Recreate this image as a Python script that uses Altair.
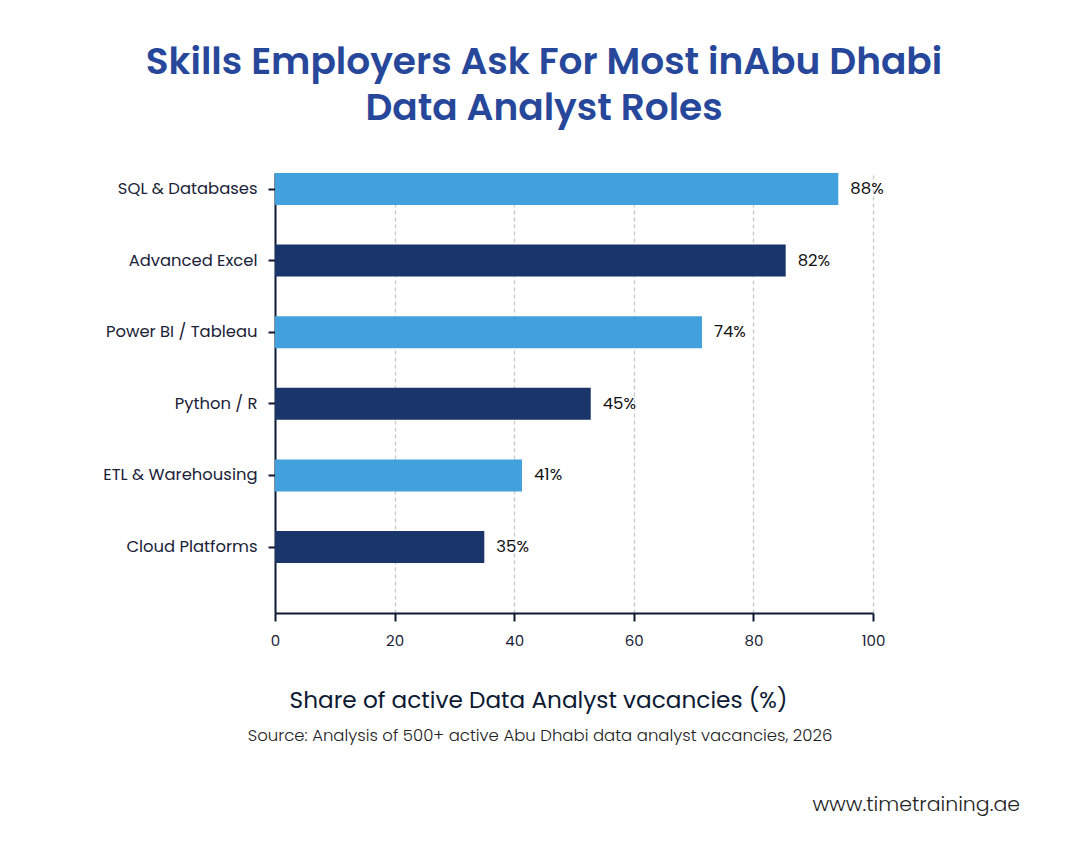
import altair as alt
import pandas as pd

skills = ["SQL & Databases", "Advanced Excel", "Power BI / Tableau", "Python / R", "ETL & Warehousing", "Cloud Platforms"]
bar_values = [94.2, 85.4, 71.4, 52.8, 41.3, 35.0]
label_texts = ["88%", "82%", "74%", "45%", "41%", "35%"]
bar_colors = ["#42a0dc", "#1a3569", "#42a0dc", "#1a3569", "#42a0dc", "#1a3569"]
x_ticks = [0, 20, 40, 60, 80, 100]

FONT = "Poppins, Inter, Noto Sans, sans-serif"

df = pd.DataFrame({"skill": skills, "value": bar_values, "label": label_texts, "color": bar_colors})

y_enc = alt.Y("skill:N", sort=skills, title=None,
              scale=alt.Scale(paddingInner=0.553, paddingOuter=0.349, align=0),
              axis=alt.Axis(labelFont=FONT, labelFontSize=16.4, labelColor="#1a2238",
                            labelPadding=11, tickSize=7, tickColor="#0d1a33", tickWidth=2,
                            domainColor="#0d1a33", domainWidth=2, grid=False))
x_enc = alt.X("value:Q", title="Share of active Data Analyst vacancies (%)",
              scale=alt.Scale(domain=[0, 100], nice=False),
              axis=alt.Axis(values=x_ticks, labelFont=FONT, labelFontSize=15, labelColor="#1a2238",
                            labelPadding=12, labelFlush=False, tickSize=8, tickColor="#0d1a33", tickWidth=2,
                            domainColor="#0d1a33", domainWidth=2,
                            grid=True, gridDash=[4, 3], gridColor="#c8c8c8", gridWidth=1.3,
                            titleFont=FONT, titleFontSize=23.2, titleFontWeight="normal",
                            titleColor="#0d1a33", titleX=263, titleY=94,
                            titleBaseline="alphabetic", titleAnchor="middle"))

bars = alt.Chart(df).mark_bar().encode(
    x=x_enc, y=y_enc, color=alt.Color("color:N", scale=None)
)
labels = alt.Chart(df).mark_text(align="left", baseline="middle", dx=12, font=FONT,
                                 fontSize=16.5, color="#111111").encode(
    x="value:Q", y=alt.Y("skill:N", sort=skills), text="label:N"
)

notes = pd.DataFrame({"t": ["Source: Analysis of 500+ active Abu Dhabi data analyst vacancies, 2026"]})
source = alt.Chart(notes).mark_text(align="center", baseline="alphabetic", font=FONT,
                                    fontSize=16.5, fontWeight=300, color="#222222").encode(
    x=alt.value(265), y=alt.value(568), text="t:N")
url_df = pd.DataFrame({"t": ["www.timetraining.ae"]})
url = alt.Chart(url_df).mark_text(align="right", baseline="alphabetic", font=FONT,
                                  fontSize=20.5, fontWeight=300, color="#222222").encode(
    x=alt.value(745), y=alt.value(638), text="t:N")

chart = alt.layer(bars, labels, source, url).properties(
    width=598, height=440,
    title=alt.TitleParams(
        text=["Skills Employers Ask For Most inAbu Dhabi", "Data Analyst Roles"],
        font=FONT, fontSize=37.5, fontWeight=600, color="#27479a",
        anchor="middle", dx=-30, offset=46, lineHeight=46),
    autosize=alt.AutoSizeParams(type="none"),
    padding={"left": 267, "top": 165, "right": 199, "bottom": 231},
).configure_view(stroke=None)

chart.save("out.html", embed_options={"renderer": "svg", "actions": False})
